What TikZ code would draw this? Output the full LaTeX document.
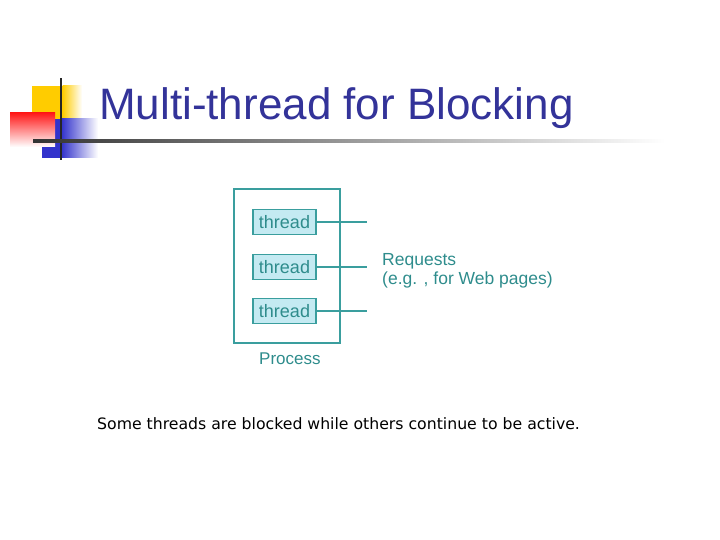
\documentclass[tikz,border=0pt]{standalone}
\usepackage{fontspec}
\setmainfont{Liberation Sans}
\newfontfamily\bodyfont{DejaVu Sans}
\definecolor{titleblue}{HTML}{333399}
\definecolor{tealline}{HTML}{3A9E9E}
\definecolor{tealtext}{HTML}{2E8C8C}
\definecolor{threadfill}{HTML}{C4EAF2}
\definecolor{logoyellow}{HTML}{FFCC00}
\definecolor{logored}{HTML}{FF1A1A}
\definecolor{logoblue}{HTML}{3333CC}
\tikzset{
  threadbox/.style={draw=tealline, fill=threadfill, line width=1.4pt, minimum width=63pt, minimum height=25pt, inner sep=0pt, font=\fontsize{18}{20}\selectfont, text=tealtext},
  conn/.style={draw=tealline, line width=1.6pt},
  tealtxt/.style={text=tealtext, font=\fontsize{17.5}{19}\selectfont, inner sep=0pt, anchor=west}
}
\begin{document}
\begin{tikzpicture}[x=1pt,y=-1pt]
\useasboundingbox (0,0) rectangle (720,540);
% logo
\fill[logoyellow] (32,86) rectangle (63,119);
\shade[left color=logoyellow, right color=white] (62.5,86) rectangle (82,119);
\fill[logoblue] (42,119) rectangle (62,158);
\shade[left color=logoblue, right color=white] (61.5,119) rectangle (98,158);
\shade[shading angle=240, top color=logored, bottom color=white] (10,113) rectangle (55,147);
\fill[black!85] (60,78) rectangle (62,160);
\shade[left color=black!80, right color=white] (33,140) rectangle (665,143);
% title
\node[anchor=base west, inner sep=0pt, text=titleblue, font=\fontsize{44}{50}\selectfont] (title) at (99,120) {Multi-thread for Blocking};
% process
\draw[tealline, line width=1.4pt] (234,189) rectangle (340,343);
\node[threadbox] (t1) at (284.5,222) {thread};
\node[threadbox] (t2) at (284.5,267) {thread};
\node[threadbox] (t3) at (284.5,311) {thread};
\coordinate (e1) at (367,222);
\coordinate (e2) at (367,267);
\coordinate (e3) at (367,311);
\draw[conn] (t1.east) -- (e1);
\draw[conn] (t2.east) -- (e2);
\draw[conn] (t3.east) -- (e3);
\node[tealtxt, anchor=base west] (req) at (382,265) {Requests};
\node[tealtxt, anchor=base west] (eg) at (382,284) {(e.g. , for Web pages)};
\node[tealtxt, anchor=base west, font=\fontsize{17}{18}\selectfont] (proc) at (259,364) {Process};
% caption
\node[anchor=base west, inner sep=0pt, font=\bodyfont\fontsize{15.7}{18}\selectfont] (cap) at (97,429) {Some threads are blocked while others continue to be active.};
\end{tikzpicture}
\end{document}
